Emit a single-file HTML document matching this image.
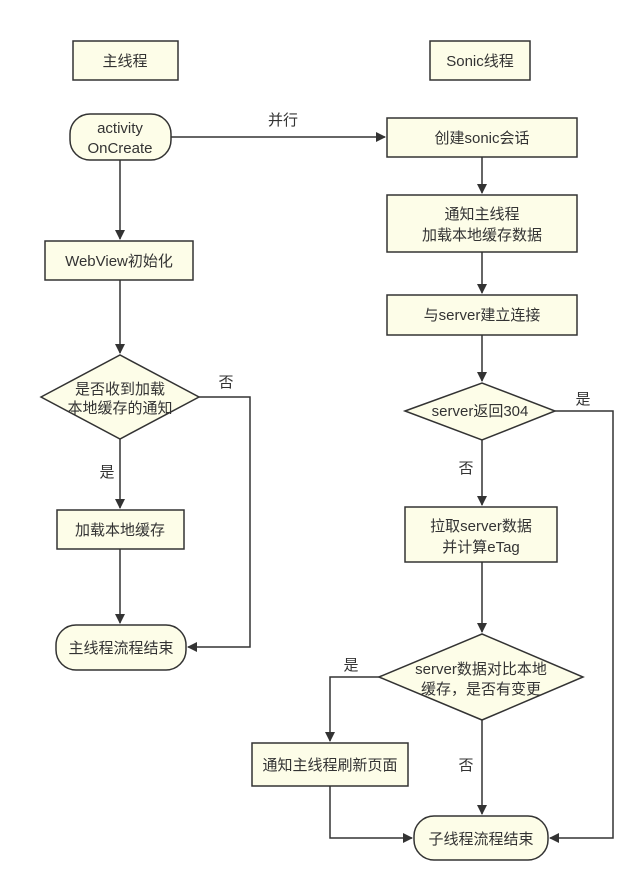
<!DOCTYPE html>
<html><head><meta charset="utf-8"><style>
html,body{margin:0;padding:0;background:#fff;}
svg text{font-family:"Liberation Sans","Noto Sans CJK SC",sans-serif;font-size:15px;fill:#333;}
</style></head><body>
<svg width="640" height="888" viewBox="0 0 640 888" xmlns="http://www.w3.org/2000/svg">
<defs><marker id="a" markerWidth="10" markerHeight="10" refX="9" refY="5" orient="auto" markerUnits="userSpaceOnUse"><path d="M0,0 L10,5 L0,10 z" fill="#333"/></marker></defs>
<g fill="#fdfde8" stroke="#333" stroke-width="1.5">
<rect x="73" y="41" width="105" height="39"/>
<rect x="430" y="41" width="100" height="39"/>
<rect x="70" y="114" width="101" height="46" rx="20"/>
<rect x="45" y="241" width="148" height="39"/>
<polygon points="41,397 120,355 199,397 120,439"/>
<rect x="57" y="510" width="127" height="39"/>
<rect x="56" y="625" width="130" height="45" rx="20"/>
<rect x="387" y="118" width="190" height="39"/>
<rect x="387" y="195" width="190" height="57"/>
<rect x="387" y="295" width="190" height="40"/>
<polygon points="405,411 482,383 555,411 482,440"/>
<rect x="405" y="507" width="152" height="55"/>
<polygon points="379,677 482,634 583,677 482,720"/>
<rect x="252" y="743" width="156" height="43"/>
<rect x="414" y="816" width="134" height="44" rx="20"/>
</g>
<g fill="none" stroke="#333" stroke-width="1.5" marker-end="url(#a)">
<path d="M171,137 H385"/>
<path d="M120,160 V239"/>
<path d="M120,280 V353"/>
<path d="M120,439 V508"/>
<path d="M120,549 V623"/>
<path d="M199,397 H250 V647 H188"/>
<path d="M482,157 V193"/>
<path d="M482,252 V293"/>
<path d="M482,335 V381"/>
<path d="M482,440 V505"/>
<path d="M482,562 V632"/>
<path d="M555,411 H613 V838 H550"/>
<path d="M379,677 H330 V741"/>
<path d="M330,786 V838 H412"/>
<path d="M482,720 V814"/>
</g>
<g text-anchor="middle">
<text x="125" y="66">主线程</text>
<text x="480" y="66">Sonic线程</text>
<text x="120" y="133">activity</text>
<text x="120" y="153">OnCreate</text>
<text x="119" y="266">WebView初始化</text>
<text x="120" y="394">是否收到加载</text>
<text x="120" y="413">本地缓存的通知</text>
<text x="120" y="535">加载本地缓存</text>
<text x="121" y="653">主线程流程结束</text>
<text x="482" y="143">创建sonic会话</text>
<text x="482" y="219">通知主线程</text>
<text x="482" y="240">加载本地缓存数据</text>
<text x="482" y="320">与server建立连接</text>
<text x="480" y="416">server返回304</text>
<text x="481" y="531">拉取server数据</text>
<text x="481" y="552">并计算eTag</text>
<text x="481" y="674">server数据对比本地</text>
<text x="481" y="694">缓存，是否有变更</text>
<text x="330" y="770">通知主线程刷新页面</text>
<text x="481" y="844">子线程流程结束</text>
<text x="283" y="125">并行</text>
<text x="226" y="387">否</text>
<text x="107" y="477">是</text>
<text x="583" y="404">是</text>
<text x="466" y="473">否</text>
<text x="351" y="670">是</text>
<text x="466" y="770">否</text>
</g>
</svg>
</body></html>
